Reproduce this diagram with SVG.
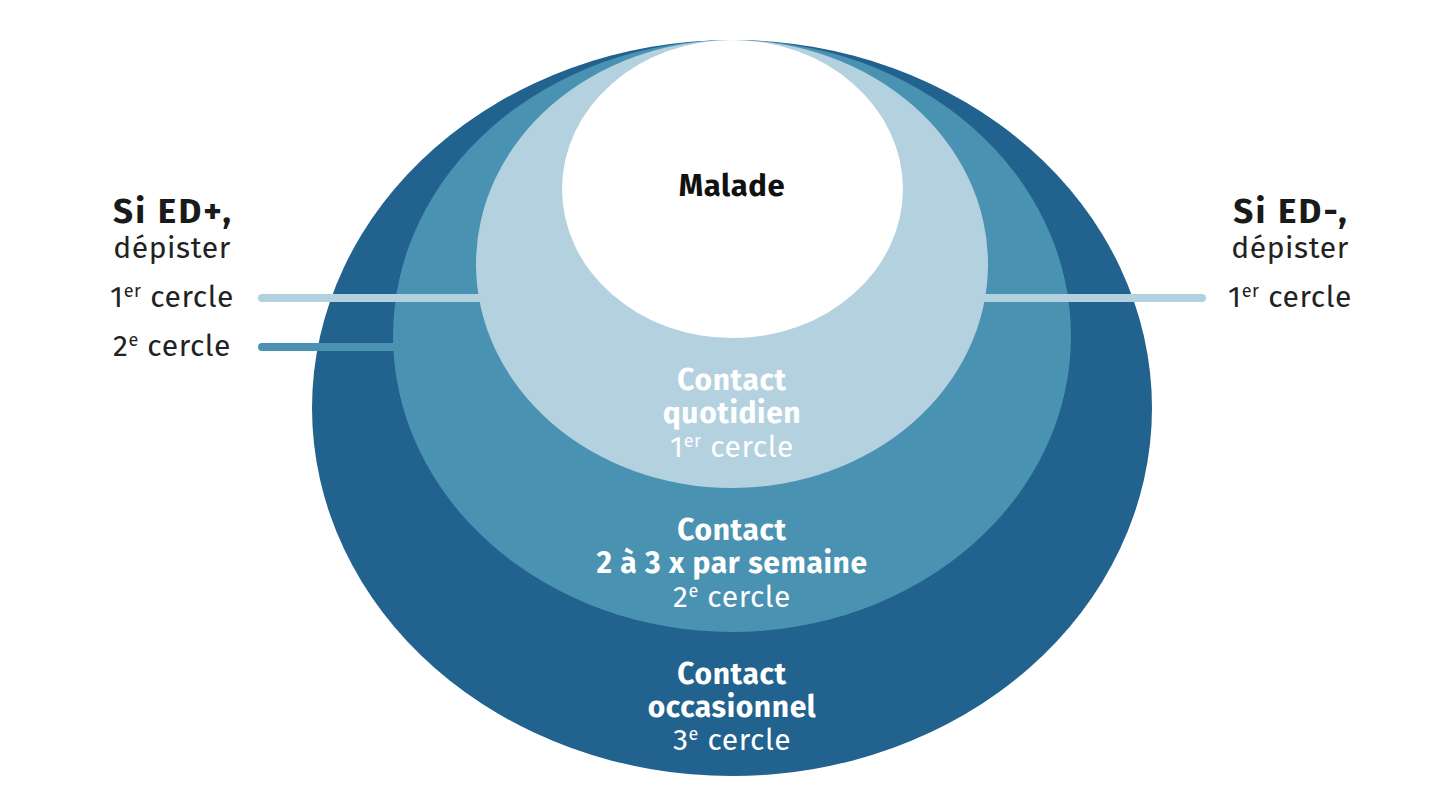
<svg xmlns="http://www.w3.org/2000/svg" width="1439" height="803" viewBox="0 0 1439 803">
<style>
.t{font-family:"Fira Sans","Open Sans","Noto Sans",sans-serif;text-anchor:middle}
.side{fill:#222;font-size:30px;letter-spacing:0.6px}
.head{fill:#1a1a1a;font-size:35px;font-weight:700;letter-spacing:2.2px}
.in{fill:#fff;font-size:30px;letter-spacing:0.6px}
.b{font-weight:700}
.sup{font-size:18px}
</style>
<rect width="1439" height="803" fill="#fff"/>
<g id="cercle3"><ellipse cx="732" cy="408" rx="420" ry="368" fill="#21628F"/></g>
<g id="connectors-2">
<line x1="262" y1="347" x2="420" y2="347" stroke="#4A92B2" stroke-width="8" stroke-linecap="round"/>
</g>
<g id="cercle2"><ellipse cx="732" cy="336" rx="339" ry="296" fill="#4A92B2"/></g>
<g id="connectors">
<line x1="262" y1="298" x2="520" y2="298" stroke="#B4D1DF" stroke-width="8" stroke-linecap="round"/>
<line x1="950" y1="298" x2="1202" y2="298" stroke="#B4D1DF" stroke-width="8" stroke-linecap="round"/>
</g>
<g id="cercle1"><ellipse cx="732" cy="264" rx="256" ry="224" fill="#B4D1DF"/></g>
<g id="malade"><ellipse cx="732.5" cy="189" rx="170.5" ry="149" fill="#fff"/>
<text class="t b" x="732" y="196" font-size="31" letter-spacing="0.6" fill="#111">Malade</text></g>
<g id="label-c1">
<text class="t in b" x="732" y="390">Contact</text>
<text class="t in b" x="732" y="423">quotidien</text>
<text class="t in" x="732" y="457">1<tspan class="sup" dy="-10">er</tspan><tspan dy="10"> cercle</tspan></text>
</g>
<g id="label-c2">
<text class="t in b" x="732" y="540">Contact</text>
<text class="t in b" x="732" y="573">2 à 3 x par semaine</text>
<text class="t in" x="732" y="607">2<tspan class="sup" dy="-10">e</tspan><tspan dy="10"> cercle</tspan></text>
</g>
<g id="label-c3">
<text class="t in b" x="732" y="684">Contact</text>
<text class="t in b" x="732" y="717">occasionnel</text>
<text class="t in" x="732" y="750">3<tspan class="sup" dy="-10">e</tspan><tspan dy="10"> cercle</tspan></text>
</g>
<g id="left-legend">
<text class="t head" x="173" y="223">Si ED+,</text>
<text class="t side" x="172" y="258">dépister</text>
<text class="t side" x="172" y="307">1<tspan class="sup" dy="-10">er</tspan><tspan dy="10"> cercle</tspan></text>
<text class="t side" x="172" y="356">2<tspan class="sup" dy="-10">e</tspan><tspan dy="10"> cercle</tspan></text>
</g>
<g id="right-legend">
<text class="t head" x="1291" y="223">Si ED-,</text>
<text class="t side" x="1290" y="258">dépister</text>
<text class="t side" x="1290" y="307">1<tspan class="sup" dy="-10">er</tspan><tspan dy="10"> cercle</tspan></text>
</g>
</svg>
